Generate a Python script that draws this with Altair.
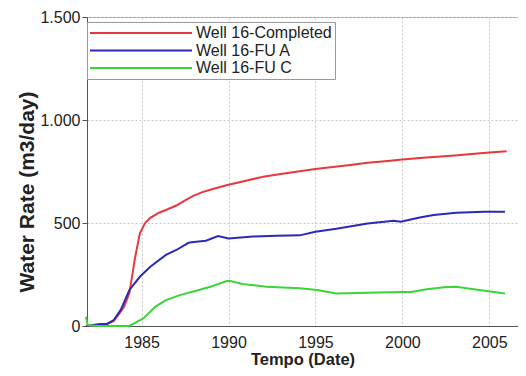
import altair as alt
import pandas as pd

series_names = ["Well 16-Completed", "Well 16-FU A", "Well 16-FU C"]
series_colors = ["#e8383c", "#2a2ab8", "#3cd43c"]

red_years = [1981.8, 1982.5, 1983.0, 1983.4, 1983.8, 1984.0, 1984.3, 1984.6, 1984.9, 1985.2, 1985.5,
             1986.0, 1986.4, 1987.0, 1987.5, 1988.0, 1988.5, 1989.0, 1989.5, 1990.0, 1991.0, 1992.0,
             1993.0, 1994.0, 1995.0, 1996.0, 1997.0, 1998.0, 1999.0, 2000.0, 2001.0, 2002.0, 2003.0,
             2004.0, 2005.0, 2006.0]
red_vals = [0, 3, 8, 25, 70, 95, 160, 320, 450, 500, 525,
            550, 563, 585, 610, 633, 650, 663, 675, 686, 705, 725,
            738, 750, 762, 772, 782, 792, 800, 808, 815, 822, 828,
            835, 842, 848]

blue_years = [1981.8, 1982.2, 1982.6, 1983.0, 1983.4, 1983.8, 1984.3, 1984.9, 1985.5, 1986.4, 1987.0,
              1987.7, 1988.0, 1988.7, 1989.4, 1990.0, 1991.4, 1992.8, 1994.1, 1995.0, 1996.2, 1998.0,
              1999.5, 1999.9, 2001.0, 2001.8, 2003.1, 2004.7, 2005.9]
blue_vals = [0, 5, 10, 10, 29, 78, 175, 239, 288, 345, 369,
             404, 408, 414, 437, 425, 434, 438, 440, 458, 472, 498,
             511, 506, 527, 539, 550, 555, 555]

green_years = [1981.8, 1981.9, 1982.5, 1983.5, 1984.3, 1985.1, 1985.8, 1986.4, 1987.2, 1988.3, 1989.1,
               1989.9, 1990.1, 1990.8, 1992.2, 1994.1, 1995.1, 1996.2, 1998.0, 1999.9, 2000.5, 2001.4,
               2002.4, 2003.1, 2004.1, 2005.9]
green_vals = [45, 5, 0, 0, 0, 37, 94, 126, 150, 175, 194,
              218, 218, 204, 191, 183, 175, 158, 162, 165, 165, 178,
              188, 191, 178, 158]

x_ticks = [1985, 1990, 1995, 2000, 2005]
y_ticks = [0, 500, 1000, 1500]

rows = []
for name, ys, vs in zip(series_names, [red_years, blue_years, green_years], [red_vals, blue_vals, green_vals]):
    for y, v in zip(ys, vs):
        rows.append({"Year": y, "Rate": v, "Series": name})
df = pd.DataFrame(rows)

font = "Liberation Sans"

chart = alt.Chart(df).mark_line(strokeWidth=2).encode(
    x=alt.X("Year:Q",
            scale=alt.Scale(domain=[1981.86, 2006.65], nice=False, zero=False),
            axis=alt.Axis(values=x_ticks, format="d", title="Tempo (Date)",
                          labelFontSize=16, titleFontSize=16.5, titleFontWeight="bold",
                          titlePadding=1, labelPadding=8, tickSize=0, domain=True)),
    y=alt.Y("Rate:Q",
            scale=alt.Scale(domain=[0, 1500], nice=False),
            axis=alt.Axis(values=y_ticks, title="Water Rate (m3/day)",
                          labelExpr="replace(format(datum.value, ',d'), ',', '.')",
                          labelFontSize=16, titleFontSize=21, titleFontWeight="bold",
                          titlePadding=2, labelPadding=2, tickSize=5, titleY=174.5)),
    color=alt.Color("Series:N",
                    scale=alt.Scale(domain=series_names, range=series_colors),
                    legend=alt.Legend(title=None, orient="none", legendX=0, legendY=5,
                                      symbolType="M-51,0H51", symbolSize=4, symbolStrokeWidth=2,
                                      symbolOffset=43, labelOffset=47,
                                      labelFontSize=16, labelFont=font, rowPadding=1.5,
                                      fillColor="white", strokeColor="#999999", padding=3,
                                      labelLimit=300, labelColor="#222222")),
    order=alt.Order("Year:Q"),
).properties(
    width=431, height=309,
    padding={"left": 79, "top": 9, "right": 0, "bottom": 42},
    autosize=alt.AutoSizeParams(type="none"),
).configure_axis(
    labelFont=font, titleFont=font, labelColor="#222222", titleColor="#222222",
    gridColor="#c8c8c8", gridDash=[2, 2], domainColor="#555555", tickColor="#555555",
).configure_view(
    stroke="#a0a0a0", strokeWidth=1,
)

chart.save("out.html", embed_options={"renderer": "svg", "actions": False})
